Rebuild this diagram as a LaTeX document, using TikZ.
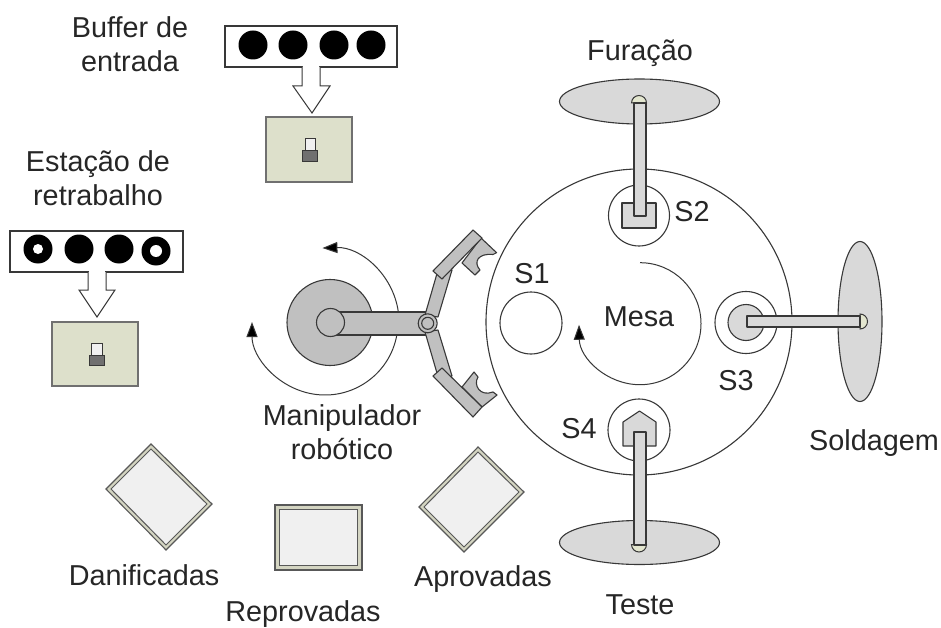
\documentclass[tikz,border=0pt]{standalone}
\usepackage{fontspec}
\setmainfont{Liberation Sans}
\usetikzlibrary{arrows.meta}
\definecolor{linec}{HTML}{383838}
\definecolor{robot}{HTML}{C0C0C0}
\definecolor{station}{HTML}{D9D9D9}
\definecolor{boxgreen}{HTML}{DDE0CB}
\definecolor{capgreen}{HTML}{E3E6CF}
\definecolor{tray}{HTML}{F0F0F0}
\definecolor{trayrim}{HTML}{D4D5C2}
\definecolor{darkpart}{HTML}{707070}
\definecolor{trayline}{HTML}{585858}
\tikzset{
  lbl/.style={font=\fontsize{28.8}{34}\selectfont, text=black!85, align=center, inner sep=0pt},
  thin line/.style={draw=linec, line width=1.1pt},
  robotpart/.style={thin line, fill=robot, line join=round},
  stationpart/.style={thin line, fill=station, line join=round},
  rotarrow/.style={draw=linec, line width=1pt, -{Triangle[length=15pt,width=11pt,fill=black]}},
  piece/.style={fill=black, draw=none},
  hole/.style={fill=white, draw=none},
  blockarrow/.style={draw=linec, line width=1pt, fill=white, line join=miter},
  greenbox/.style={draw=darkpart, line width=1.2pt, fill=boxgreen},
  lightpart/.style={draw=linec, line width=.8pt, fill=tray},
  darkblock/.style={draw=linec, line width=.8pt, fill=darkpart},
  trayouter/.style={draw=trayline, line width=1.1pt, fill=trayrim, line join=miter},
  trayinner/.style={draw=trayline, line width=1pt, fill=tray, line join=miter},
  capstyle/.style={draw=linec, line width=1pt, fill=capgreen}
}
\begin{document}
\begin{tikzpicture}[x=1pt,y=-1pt]
\useasboundingbox (0,0) rectangle (941,628);
\fill[white] (0,0) rectangle (941,628);

% input buffer
\draw[thin line, fill=white] (225,26) rectangle (397,67);
\foreach \px in {253,293,334,371} \fill[piece] (\px,45) circle[radius=14.5pt];
\draw[blockarrow] (302,67) -- (302,86) -- (293,86) -- (312,113) -- (330,86) -- (320,86) -- (320,67);
\fill[white] (302.6,65.5) rectangle (319.4,69);
\draw[greenbox] (266,117) rectangle (352,182);
\draw[lightpart] (305,138) rectangle (315,150);
\draw[darkblock] (302,150) rectangle (317,161);

% rework buffer
\draw[thin line, fill=white] (10,231) rectangle (183,272);
\foreach \px/\py in {38/249,79/249,119/249,156/251} \fill[piece] (\px,\py) circle[radius=14.5pt];
\fill[hole] (38,249) circle[radius=5pt];
\fill[hole] (156,251) circle[radius=6pt];
\draw[blockarrow] (88,272) -- (88,290) -- (79,290) -- (97,317) -- (115,290) -- (106,290) -- (106,272);
\fill[white] (88.6,270.5) rectangle (105.4,274);
\draw[greenbox] (52,322) rectangle (138,386);
\draw[lightpart] (91,343) rectangle (102,355);
\draw[darkblock] (89,355) rectangle (104,365);

% table
\draw[thin line] (639,322) circle[radius=153pt];
\draw[thin line] (531,323) circle[radius=31pt];
\draw[thin line] (639,215.5) circle[radius=30.5pt];
\draw[thin line] (746,322.5) circle[radius=31pt];
\draw[thin line] (639,430) circle[radius=31pt];
\draw[rotarrow] (640,323.7) ++(90:61pt) arc[start angle=90,end angle=-179,radius=61pt];

% drilling station
\draw[stationpart] (639.5,101.5) ellipse[x radius=80pt,y radius=22.5pt];
\draw[capstyle] (631.5,103) arc[start angle=180,end angle=0,radius=7.5pt] -- cycle;
\draw[stationpart] (622,203) rectangle (656,228);
\draw[stationpart] (634,103) rectangle (646,216);

% welding station
\draw[stationpart] (860,321.5) ellipse[x radius=22pt,y radius=80pt];
\draw[capstyle] (860,314) arc[start angle=90,end angle=-90,radius=7.5pt] -- cycle;
\draw[stationpart] (746,322.5) circle[radius=18pt];
\draw[stationpart] (747,316) rectangle (860,327);

% test station
\draw[stationpart] (639.5,542.5) ellipse[x radius=80pt,y radius=22pt];
\draw[capstyle] (631.5,544.5) arc[start angle=180,end angle=360,radius=7.5pt] -- cycle;
\draw[stationpart] (623,422) -- (639.5,411) -- (656,422) -- (656,446) -- (623,446) -- cycle;
\draw[stationpart] (634,432) rectangle (646,545);

% robot arm
\draw[rotarrow] (325,322) ++(8:74pt) arc[start angle=8,end angle=92,radius=74pt];
\draw[rotarrow] (325,322) ++(-10:73pt) arc[start angle=-10,end angle=-180,radius=73pt];
\draw[robotpart] (330,322.5) circle[radius=43pt];
\draw[robotpart] (330,312) rectangle (427,335);
\draw[robotpart] (330.5,322.5) circle[radius=14pt];
\draw[robotpart] (425,315) -- (438,270) -- (452,270) -- (438,317) -- cycle;
\draw[robotpart] (425,332) -- (439,380) -- (452,376) -- (438,330) -- cycle;
% upper gripper
\draw[robotpart] (462,263) -- (481,238) -- (496.6,252.7) -- (493,254.5)
   .. controls (478,253) and (473,262) .. (480,270) -- (475,275) -- cycle;
\draw[robotpart] (433,271) -- (473,230) -- (482,238) -- (442,279) -- cycle;
% lower gripper
\draw[robotpart] (462,387) -- (474,372) -- (478,377)
   .. controls (473,385) and (480,397) .. (493,392) -- (497,395) -- (482,407) -- cycle;
\draw[robotpart] (433,376) -- (442,368) -- (482,407) -- (473,417) -- cycle;
% joint
\draw[robotpart] (427.7,323.3) circle[radius=9.5pt];
\draw[robotpart] (427.7,323.3) circle[radius=6pt];

% trays
\draw[trayouter] (151,444) -- (212,504) -- (166,550) -- (106,489) -- cycle;
\draw[trayinner] (151,449) -- (207,504) -- (166,545) -- (111,489) -- cycle;
\draw[trayouter] (275,505) rectangle (362,570);
\draw[trayinner] (279.5,509.5) rectangle (357.5,565.5);
\draw[trayouter] (478,447) -- (524,492) -- (464,552) -- (419,507) -- cycle;
\draw[trayinner] (478,452) -- (519,492) -- (464,547) -- (424,507) -- cycle;

% labels
\node[lbl] (lbuf) at (130,44) {Buffer de\\entrada};
\node[lbl] (lrew) at (98,178) {Estação de\\retrabalho};
\node[lbl] (lfur) at (640,53) {Furação};
\node[lbl] (lsol) at (874,443) {Soldagem};
\node[lbl] (ltes) at (640,605) {Teste};
\node[lbl] (ls1) at (532,274) {S1};
\node[lbl] (ls2) at (692,212) {S2};
\node[lbl] (ls3) at (736,381) {S3};
\node[lbl] (ls4) at (579,429) {S4};
\node[lbl] (lmes) at (639,317) {Mesa};
\node[lbl] (lman) at (342,432) {Manipulador\\robótico};
\node[lbl] (ldan) at (144,575) {Danificadas};
\node[lbl] (lrep) at (303,614) {Reprovadas};
\node[lbl] (lapr) at (483,579) {Aprovadas};
\end{tikzpicture}
\end{document}
